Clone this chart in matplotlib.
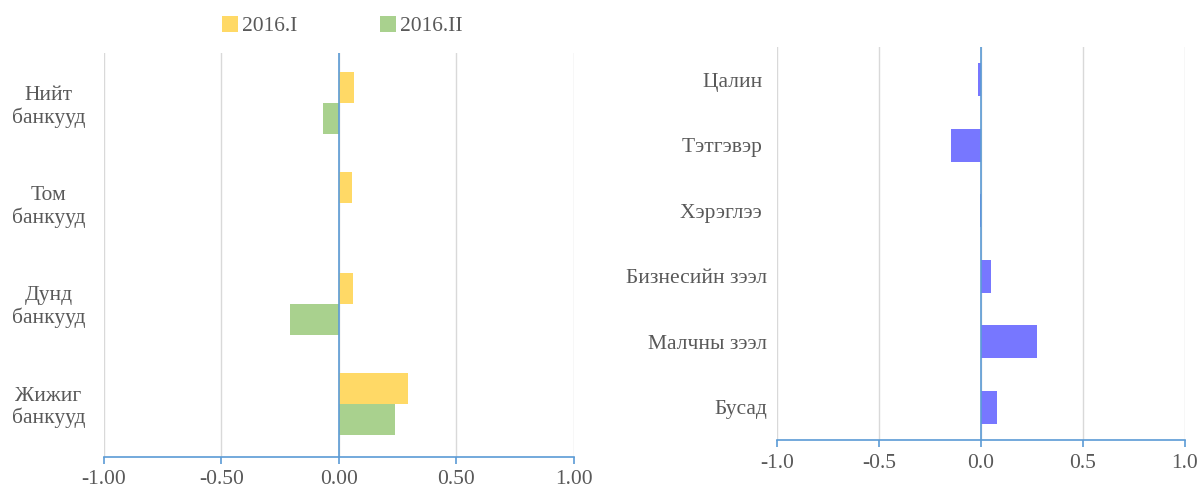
import matplotlib.pyplot as plt
import numpy as np

plt.rcParams['font.family'] = ['Liberation Serif', 'DejaVu Serif']

# Зүүн график: банкны бүлгүүд
bank_groups = ['Нийт\nбанкууд', 'Том\nбанкууд', 'Дунд\nбанкууд', 'Жижиг\nбанкууд']
series_names = ['2016.I', '2016.II']
vals_2016_1 = [0.064, 0.057, 0.060, 0.292]
vals_2016_2 = [-0.068, 0.0, -0.209, 0.237]
left_ticks = [-1.0, -0.5, 0.0, 0.5, 1.0]

# Баруун график: зээлийн төрлүүд
loan_types = ['Цалин ', 'Тэтгэвэр ', 'Хэрэглээ ', 'Бизнесийн зээл', 'Малчны зээл', 'Бусад']
loan_vals = [-0.015, -0.145, -0.005, 0.050, 0.276, 0.082]
right_ticks = [-1.0, -0.5, 0.0, 0.5, 1.0]

yellow = '#FFD966'
green = '#A9D18E'
violet = '#7777FF'
axis_blue = '#5B9BD5'
grid_gray = '#D9D9D9'
text_gray = '#595959'
fs = 15.5

fig = plt.figure(figsize=(11.99, 4.88), dpi=100)
ax1 = fig.add_axes([0.0867, 0.0635, 0.392, 0.8275])
ax2 = fig.add_axes([0.648, 0.098, 0.340, 0.806])


def style_axis(ax, ticks, fmt, pad):
    ax.set_xlim(-1.0, 1.0)
    ax.set_xticks(ticks)
    ax.set_xticklabels([fmt.format(t) for t in ticks])
    for side in ['top', 'right', 'left']:
        ax.spines[side].set_visible(False)
    ax.spines['bottom'].set_color(axis_blue)
    ax.spines['bottom'].set_linewidth(1.2)
    ax.axvline(0, color=axis_blue, linewidth=1.2, zorder=4)
    ax.grid(axis='x', color=grid_gray, linewidth=1.0)
    ax.set_axisbelow(True)
    ax.tick_params(axis='x', colors=axis_blue, labelcolor=text_gray,
                   labelsize=fs, length=5, width=1.2, pad=pad)
    ax.tick_params(axis='y', length=0, labelcolor=text_gray, labelsize=fs)


# --- зүүн ---
y = np.arange(len(bank_groups))
h = 0.31
ax1.barh(y - h / 2, vals_2016_1, height=h, color=yellow, label=series_names[0], zorder=3)
ax1.barh(y + h / 2, vals_2016_2, height=h, color=green, label=series_names[1], zorder=3)
ax1.set_ylim(len(bank_groups) - 0.47, -0.5)
ax1.set_yticks(y)
ax1.set_yticklabels(bank_groups, ha='center', linespacing=1.15)
style_axis(ax1, left_ticks, '{:.2f}', 4)
ax1.tick_params(axis='y', pad=40)
ax1.legend(loc='upper left', bbox_to_anchor=(0.21, 1.14), ncol=2, frameon=False,
           fontsize=fs, handlelength=0.75, handleheight=0.75, handletextpad=0.2,
           columnspacing=3.8, labelcolor=text_gray)

# --- баруун ---
y2 = np.arange(len(loan_types))
ax2.barh(y2, loan_vals, height=0.5, color=violet, zorder=3)
ax2.set_ylim(len(loan_types) - 0.5, -0.5)
ax2.set_yticks(y2)
ax2.set_yticklabels(loan_types)
style_axis(ax2, right_ticks, '{:.1f}', 5)
ax2.tick_params(axis='y', pad=7)

fig.savefig('out.png', dpi=100)
